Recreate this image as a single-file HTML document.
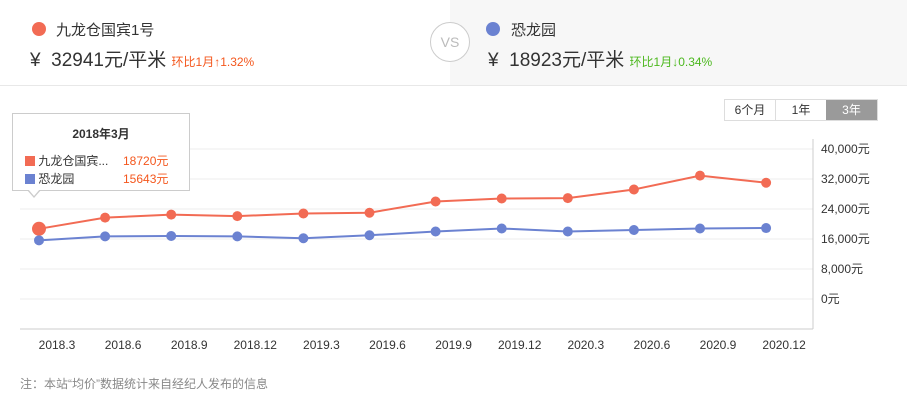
<!DOCTYPE html>
<html><head><meta charset="utf-8"><style>
body{margin:0;width:907px;height:401px;overflow:hidden;background:#fff;font-family:"Liberation Sans","Noto Sans CJK SC",sans-serif;position:relative}
.abs{position:absolute}
</style></head><body>
<div class="abs" style="left:0;top:0;width:450px;height:85px;background:#fff"></div>
<div class="abs" style="left:450px;top:0;width:457px;height:85px;background:#f7f7f7"></div>
<div class="abs" style="left:0;top:85px;width:907px;height:1px;background:#e8e8e8"></div>
<div class="abs" style="left:32px;top:22px;width:14px;height:14px;border-radius:50%;background:#f26b54"></div>
<div class="abs" style="left:56px;top:19px;font-size:15px;color:#333">九龙仓国宾1号</div>
<div class="abs" style="left:30px;top:45px;font-size:19px;color:#333">¥&nbsp; 32941元/平米 <span style="font-size:12px;color:#f4571d">环比1月↑1.32%</span></div>
<div class="abs" style="left:430px;top:22px;width:38px;height:38px;border:1px solid #ccc;border-radius:50%;background:#fff;color:#bbb;font-size:14px;text-align:center;line-height:38px">VS</div>
<div class="abs" style="left:486px;top:22px;width:14px;height:14px;border-radius:50%;background:#6b82d1"></div>
<div class="abs" style="left:511px;top:19px;font-size:15px;color:#333">恐龙园</div>
<div class="abs" style="left:488px;top:45px;font-size:19px;color:#333">¥&nbsp; 18923元/平米 <span style="font-size:12px;color:#4cb81e">环比1月↓0.34%</span></div>
<div class="abs" style="left:724px;top:99px;height:20px;display:flex;border:1px solid #ddd;font-size:12px;color:#333">
<div style="width:50px;text-align:center;line-height:20px;border-right:1px solid #ddd">6个月</div>
<div style="width:50px;text-align:center;line-height:20px">1年</div>
<div style="width:51px;text-align:center;line-height:20px;background:#9a9a9a;color:#fff">3年</div>
</div>
<svg class="abs" style="left:0;top:0" width="907" height="401" id="chart"></svg>
<div class="abs" style="left:12px;top:113px;width:176px;height:76px;border:1px solid #ccc;background:#fff;font-size:12px;color:#333">
<div style="text-align:center;font-weight:bold;margin-top:11px">2018年3月</div>
<div style="position:absolute;left:12px;top:38px"><span style="display:inline-block;width:10px;height:10px;background:#f26b54;vertical-align:-1px"></span> 九龙仓国宾...</div>
<div style="position:absolute;left:110px;top:38px;color:#f4571d">18720元</div>
<div style="position:absolute;left:12px;top:56px"><span style="display:inline-block;width:10px;height:10px;background:#6b82d1;vertical-align:-1px"></span> 恐龙园</div>
<div style="position:absolute;left:110px;top:56px;color:#f4571d">15643元</div>
<div style="position:absolute;left:14px;top:76px;width:0;height:0;border-left:7px solid transparent;border-right:7px solid transparent;border-top:8px solid #ccc"></div>
<div style="position:absolute;left:15px;top:75px;width:0;height:0;border-left:6px solid transparent;border-right:6px solid transparent;border-top:7px solid #fff"></div>
</div>
<div class="abs" style="left:20px;top:375px;font-size:12px;color:#888">注：本站“均价”数据统计来自经纪人发布的信息</div>
<script>
const categories=["2018.3","2018.6","2018.9","2018.12","2019.3","2019.6","2019.9","2019.12","2020.3","2020.6","2020.9","2020.12"];
const seriesA=[18720,21700,22500,22100,22800,23000,26000,26800,26900,29200,32900,31000];
const seriesB=[15643,16700,16800,16700,16200,17000,18000,18800,18000,18400,18800,18923];
const yTicks=[0,8000,16000,24000,32000,40000];
const yLabels=["0元","8,000元","16,000元","24,000元","32,000元","40,000元"];
const svg=document.getElementById('chart');const NS='http://www.w3.org/2000/svg';
const x=i=>39+i*66.1;const y=v=>299-v/8000*30;
function mk(t,a,p){const e=document.createElementNS(NS,t);for(const k in a)e.setAttribute(k,a[k]);(p||svg).appendChild(e);return e;}
yTicks.forEach((t,i)=>{const g=mk('line',{x1:20,x2:813,y1:y(t),y2:y(t),stroke:'#eee'});
const l=mk('text',{x:821,y:y(t)+4,'font-size':12,fill:'#333'});l.textContent=yLabels[i];});
let ax=mk('line',{x1:20,x2:813,y1:329,y2:329,stroke:'#ccc'});
let ay=mk('line',{x1:813,x2:813,y1:139,y2:329,stroke:'#ccc'});
categories.forEach((c,i)=>{const t=mk('text',{x:x(i)+18,y:349,'font-size':12,fill:'#333','text-anchor':'middle'});t.textContent=c;});
[[seriesA,'#f26b54','series-a'],[seriesB,'#6b82d1','series-b']].forEach(([s,c,n])=>{
const p=mk('polyline',{points:s.map((v,i)=>x(i)+','+y(v)).join(' '),fill:'none',stroke:c,'stroke-width':2});
s.forEach((v,i)=>{const d=mk('circle',{cx:x(i),cy:y(v),r:(i==0&&n=='series-a')?7:5,fill:c});});});
</script>
</body></html>
